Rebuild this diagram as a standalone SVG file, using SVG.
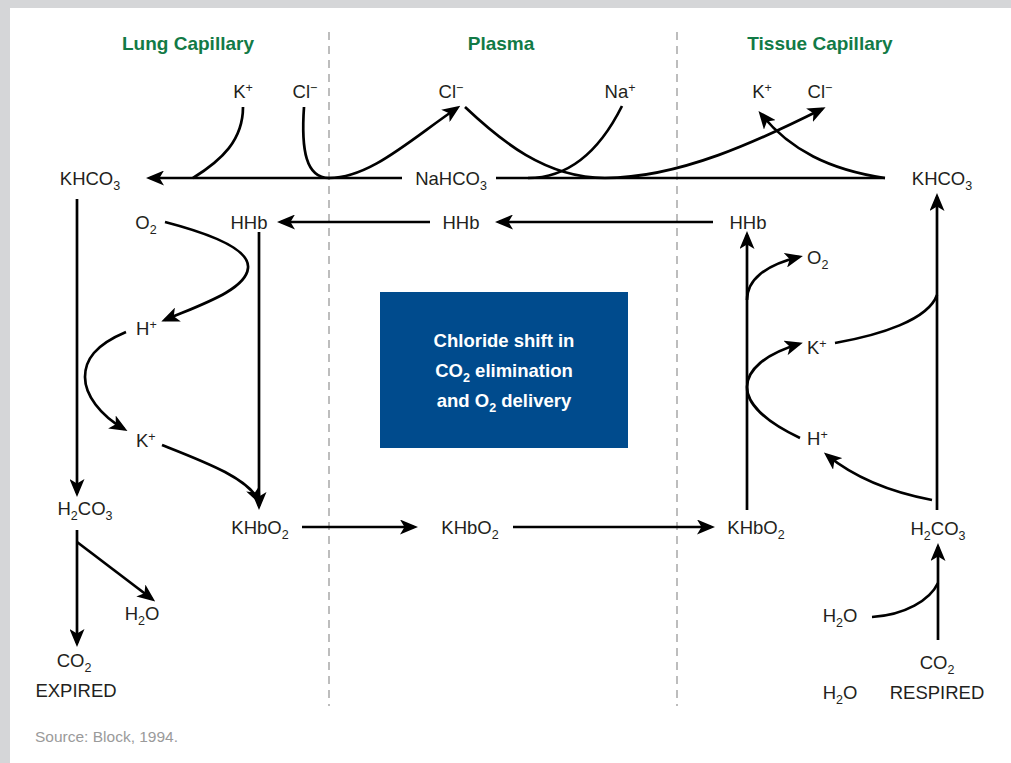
<svg xmlns="http://www.w3.org/2000/svg" width="1011" height="763" viewBox="0 0 1011 763">
<style>
.t{font-family:"Liberation Sans",Arial,sans-serif;font-size:18.5px;fill:#231f20}
.m{text-anchor:middle}
.s{font-size:12.5px}
.h{font-family:"Liberation Sans",Arial,sans-serif;font-size:19px;font-weight:bold;fill:#127a46;text-anchor:middle}
.b{font-family:"Liberation Sans",Arial,sans-serif;font-size:18.5px;font-weight:bold;fill:#fff;text-anchor:middle}
.c{fill:none;stroke:#000;stroke-width:2.7}
.a{marker-end:url(#ah)}
.d{stroke:#9a9a9a;stroke-width:1.3;stroke-dasharray:8 6}
</style>
<defs>
<marker id="ah" markerUnits="userSpaceOnUse" viewBox="0 0 18 15" markerWidth="18" markerHeight="15" refX="14" refY="7.5" orient="auto">
<path d="M0,0 L18,7.5 L0,15 L4.5,7.5 Z" fill="#000"/>
</marker>
</defs>
<rect x="0" y="0" width="1011" height="763" fill="#fff"/>
<rect x="0" y="0" width="1011" height="8" fill="#d5d6d8"/>
<rect x="0" y="0" width="10" height="763" fill="#d5d6d8"/>

<g id="dividers">
<line class="d" x1="329" y1="32" x2="329" y2="706"/>
<line class="d" x1="677" y1="32" x2="677" y2="706"/>
</g>

<g id="titles">
<text class="h" x="188" y="50">Lung Capillary</text>
<text class="h" x="501" y="50">Plasma</text>
<text class="h" x="820" y="50">Tissue Capillary</text>
</g>

<g id="center-box">
<rect x="380" y="292" width="248" height="156" fill="#004b8d"/>
<text class="b" x="504" y="347">Chloride shift in</text>
<text class="b" x="504" y="377">CO<tspan class="s" dy="5">2</tspan><tspan dy="-5"> elimination</tspan></text>
<text class="b" x="504" y="407">and O<tspan class="s" dy="5">2</tspan><tspan dy="-5"> delivery</tspan></text>
</g>

<g id="connectors">
<path class="c a" d="M402 178 L150 178"/>
<path class="c" d="M496 178 L885 178"/>
<path class="c" d="M243 107 C243 140 222 160 193 178"/>
<path class="c a" d="M304 107 C301 150 306 178 329 178 C370 178 410 140 457 108"/>
<path class="c a" d="M465 107 C500 140 545 178 605 178 C680 178 760 140 822 109"/>
<path class="c" d="M622 106 C600 150 570 178 528 178"/>
<path class="c a" d="M885 178 C830 170 790 150 761 114"/>

<path class="c a" d="M430 222 L281 222"/>
<path class="c a" d="M713 222 L499 222"/>

<path class="c a" d="M77 199 L77 493"/>
<path class="c a" d="M259 232 L259 506"/>
<path class="c a" d="M165 222 C215 235 250 250 248 268 C246 290 200 305 165 320"/>
<path class="c a" d="M126 332 C95 345 85 360 85 377 C85 395 100 415 124 429"/>
<path class="c a" d="M162 445 C205 462 248 478 259 501"/>
<path class="c a" d="M77 530 L77 643"/>
<path class="c a" d="M77 542 L152 599"/>

<path class="c a" d="M302 527 L414 527"/>
<path class="c a" d="M513 527 L711 527"/>

<path class="c a" d="M747 510 L747 235"/>
<path class="c a" d="M747 300 C747 280 765 265 799 257"/>
<path class="c a" d="M800 438 C762 420 747 402 747 387 C747 370 765 354 799 344"/>
<path class="c a" d="M937 510 L937 197"/>
<path class="c" d="M937 295 C928 320 880 335 835 343"/>
<path class="c a" d="M932 500 C890 492 855 478 827 455"/>
<path class="c a" d="M938 640 L938 547"/>
<path class="c" d="M872 617 C905 615 930 600 938 583"/>
</g>

<g id="labels">
<g id="n-k-lung-top"><text class="t m" x="243" y="98">K<tspan class="s" dy="-6">+</tspan></text></g>
<g id="n-cl-lung-top"><text class="t m" x="305" y="98">Cl<tspan class="s" dy="-6">−</tspan></text></g>
<g id="n-cl-plasma"><text class="t m" x="451" y="98">Cl<tspan class="s" dy="-6">−</tspan></text></g>
<g id="n-na-plasma"><text class="t m" x="620" y="98">Na<tspan class="s" dy="-6">+</tspan></text></g>
<g id="n-k-tissue-top"><text class="t m" x="762" y="98">K<tspan class="s" dy="-6">+</tspan></text></g>
<g id="n-cl-tissue-top"><text class="t m" x="820" y="98">Cl<tspan class="s" dy="-6">−</tspan></text></g>

<g id="n-khco3-lung"><text class="t m" x="90" y="185">KHCO<tspan class="s" dy="5">3</tspan></text></g>
<g id="n-nahco3"><text class="t m" x="451" y="185">NaHCO<tspan class="s" dy="5">3</tspan></text></g>
<g id="n-khco3-tissue"><text class="t m" x="942" y="185">KHCO<tspan class="s" dy="5">3</tspan></text></g>

<g id="n-o2-lung"><text class="t m" x="146" y="229">O<tspan class="s" dy="5">2</tspan></text></g>
<g id="n-hhb-lung"><text class="t m" x="249" y="229">HHb</text></g>
<g id="n-hhb-plasma"><text class="t m" x="461" y="229">HHb</text></g>
<g id="n-hhb-tissue"><text class="t m" x="748" y="229">HHb</text></g>

<g id="n-o2-tissue"><text class="t" x="807" y="264">O<tspan class="s" dy="5">2</tspan></text></g>
<g id="n-h-lung"><text class="t" x="136" y="335">H<tspan class="s" dy="-6">+</tspan></text></g>
<g id="n-k-lung"><text class="t" x="136" y="447">K<tspan class="s" dy="-6">+</tspan></text></g>
<g id="n-k-tissue"><text class="t" x="807" y="354">K<tspan class="s" dy="-6">+</tspan></text></g>
<g id="n-h-tissue"><text class="t" x="807" y="445">H<tspan class="s" dy="-6">+</tspan></text></g>

<g id="n-h2co3-lung"><text class="t m" x="85" y="515">H<tspan class="s" dy="5">2</tspan><tspan dy="-5">CO</tspan><tspan class="s" dy="5">3</tspan></text></g>
<g id="n-khbo2-lung"><text class="t m" x="260" y="534">KHbO<tspan class="s" dy="5">2</tspan></text></g>
<g id="n-khbo2-plasma"><text class="t m" x="470" y="534">KHbO<tspan class="s" dy="5">2</tspan></text></g>
<g id="n-khbo2-tissue"><text class="t m" x="756" y="534">KHbO<tspan class="s" dy="5">2</tspan></text></g>
<g id="n-h2co3-tissue"><text class="t m" x="938" y="535">H<tspan class="s" dy="5">2</tspan><tspan dy="-5">CO</tspan><tspan class="s" dy="5">3</tspan></text></g>

<g id="n-h2o-lung"><text class="t m" x="142" y="620">H<tspan class="s" dy="5">2</tspan><tspan dy="-5">O</tspan></text></g>
<g id="n-co2-expired"><text class="t m" x="74" y="667">CO<tspan class="s" dy="5">2</tspan></text><text class="t m" x="76" y="697">EXPIRED</text></g>
<g id="n-h2o-tissue"><text class="t m" x="840" y="622">H<tspan class="s" dy="5">2</tspan><tspan dy="-5">O</tspan></text></g>
<g id="n-co2-respired"><text class="t m" x="937" y="669">CO<tspan class="s" dy="5">2</tspan></text><text class="t m" x="937" y="699">RESPIRED</text></g>
<g id="n-h2o-bottom"><text class="t m" x="840" y="699">H<tspan class="s" dy="5">2</tspan><tspan dy="-5">O</tspan></text></g>
</g>

<text x="35" y="742" style="font-family:'Liberation Sans',Arial,sans-serif;font-size:15.5px;fill:#9a9a9a">Source: Block, 1994.</text>
</svg>
